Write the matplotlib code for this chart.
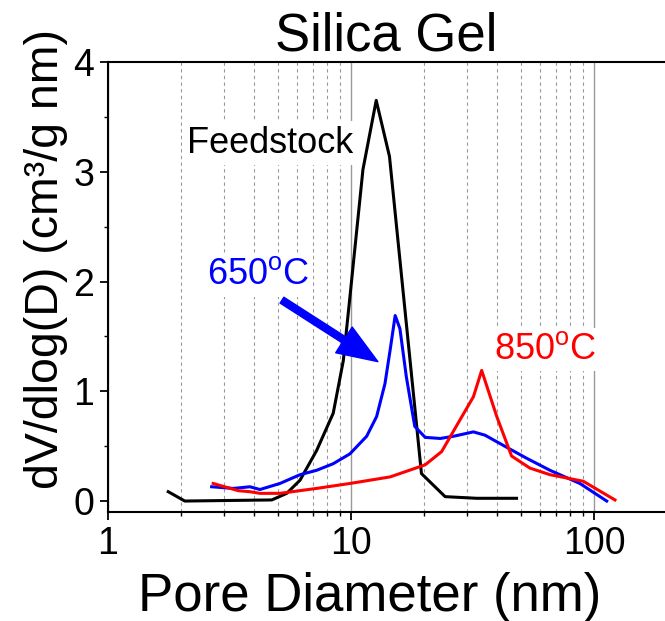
import matplotlib
matplotlib.use("Agg")
import matplotlib.pyplot as plt
from matplotlib.ticker import LogLocator, NullFormatter, MultipleLocator

plt.rcParams['font.family'] = ['Liberation Sans', 'DejaVu Sans']
plt.rcParams['mathtext.fontset'] = 'custom'
plt.rcParams['mathtext.rm'] = 'Liberation Sans'
plt.rcParams['mathtext.default'] = 'regular'

# Feedstock
feed_d = [1.77, 2.07, 4.72, 5.44, 6.17, 7.22, 8.45, 9.3, 9.9, 11.2, 12.7, 14.4, 19.5, 24.4, 32.9, 48.0]
feed_v = [0.085, 0.0, 0.01, 0.07, 0.19, 0.46, 0.80, 1.28, 1.86, 3.02, 3.65, 3.14, 0.25, 0.04, 0.025, 0.025]

# 650 C
s650_d = [2.67, 3.28, 3.84, 4.22, 5.1, 6.17, 7.22, 8.45, 9.9, 11.6, 12.75, 13.8, 14.5, 15.2,
          15.9, 16.9, 18.3, 20.2, 23.3, 26.4, 31.9, 35.6, 43.7, 52.8, 65.9, 87.5, 112.8]
s650_v = [0.13, 0.115, 0.13, 0.105, 0.16, 0.24, 0.28, 0.34, 0.43, 0.59, 0.77, 1.07, 1.38, 1.69,
          1.57, 1.13, 0.68, 0.58, 0.57, 0.59, 0.63, 0.60, 0.49, 0.39, 0.28, 0.16, 0.0]

# 850 C
s850_d = [2.71, 3.44, 3.84, 4.22, 5.1, 7.22, 9.9, 14.5, 20.2, 23.6, 28.1, 31.9, 34.5,
          39.8, 45.8, 54.5, 65.9, 90.4, 122.0]
s850_v = [0.16, 0.094, 0.085, 0.07, 0.07, 0.115, 0.16, 0.22, 0.33, 0.45, 0.74, 0.95, 1.19,
          0.77, 0.41, 0.30, 0.24, 0.18, 0.01]

fig = plt.figure(figsize=(6.65, 6.21), dpi=100)
ax = fig.add_axes([0.1624, 0.1755, 0.8376, 0.7247])

ax.plot(feed_d, feed_v, color='black', lw=2.2, zorder=4)
ax.plot(s650_d, s650_v, color='blue', lw=2.2, zorder=4)
ax.plot(s850_d, s850_v, color='red', lw=2.2, zorder=4)

ax.set_xscale('log')
ax.set_xlim(1, 196)
ax.set_ylim(-0.1, 4)

ax.xaxis.set_minor_locator(LogLocator(base=10, subs=range(2, 10), numticks=20))
ax.xaxis.set_minor_formatter(NullFormatter())
ax.set_xticks([1, 10, 100])
ax.set_xticklabels(['1', '10', '100'])
ax.yaxis.set_major_locator(MultipleLocator(1))
ax.yaxis.set_minor_locator(MultipleLocator(0.5))

ax.grid(which='major', axis='x', color='#999999', lw=1.0, ls='-')
ax.grid(which='minor', axis='x', color='#999999', lw=0.8, ls=(0, (3, 3)))

ax.tick_params(which='major', direction='out', length=6, width=1.3, labelsize=27, pad=4)
ax.tick_params(which='minor', direction='out', length=3, width=1.0)

ax.spines['right'].set_visible(False)
for s in ['left', 'bottom', 'top']:
    ax.spines[s].set_linewidth(1.5)

ax.set_xlabel('Pore Diameter (nm)', fontsize=38, labelpad=7)
ax.xaxis.label.set_x(0.469)
ax.set_ylabel('dV/dlog(D) (cm³/g nm)', fontsize=33.5, labelpad=4)
ax.yaxis.label.set_y(0.562)
ax.set_title('Silica Gel', fontsize=38, pad=3)

box = dict(facecolor='white', edgecolor='none', pad=3)
ax.text(4.64, 3.26, 'Feedstock', fontsize=26, ha='center', va='center', bbox=box, zorder=3)
ax.text(4.14, 2.06, r'650$^{o}$C', fontsize=26, color='blue', ha='center', va='center', bbox=box, zorder=3)
ax.text(62.9, 1.38, r'850$^{o}$C', fontsize=26, color='red', ha='center', va='center', bbox=box, zorder=3)

ax.annotate('', xy=(12.9, 1.27), xytext=(5.2, 1.83),
            arrowprops=dict(arrowstyle='simple,head_length=2.9,head_width=2.2,tail_width=0.5',
                            color='blue', mutation_scale=10, shrinkA=0, shrinkB=0),
            zorder=5)

fig.savefig('out.png', dpi=100)
